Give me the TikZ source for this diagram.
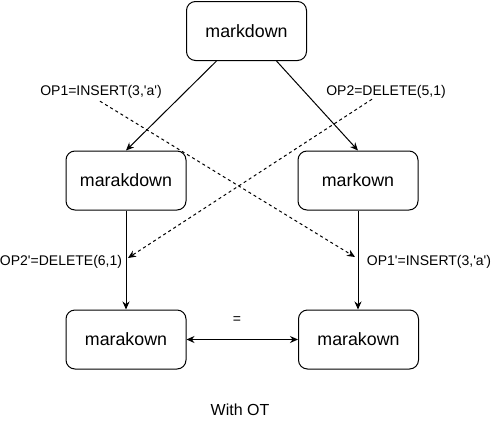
\documentclass[tikz,border=0pt]{standalone}
\usepackage{fontspec}
\setmainfont{Liberation Sans}[Ligatures=TeXOff]
\usetikzlibrary{arrows.meta}
\begin{document}
\begin{tikzpicture}[x=1pt,y=-1pt,
  box/.style={draw, rounded corners=9pt, minimum width=120pt, minimum height=59pt,
    font=\fontsize{17.8}{20}\selectfont, line width=1pt, inner sep=0pt},
  lbl/.style={font=\fontsize{14}{16}\selectfont, inner sep=0pt},
  arr/.style={line width=1pt, -{Stealth[length=8pt,width=7pt]}},
  darr/.style={arr, dash pattern=on 3pt off 3pt}]
\useasboundingbox (0,0) rectangle (493,421);
\node[box] (md) at (246.5,31) {markdown};
\node[box] (mkd) at (126,180.5) {marakdown};
\node[box] (mkn) at (358,180.5) {markown};
\node[box] (bl) at (126,339.5) {marakown};
\node[box] (br) at (358.5,339.5) {marakown};
\node[lbl] (op1) at (101,91.5) {OP1=INSERT(3,'a')};
\node[lbl] (op2) at (386,91.5) {OP2=DELETE(5,1)};
\node[lbl] (op2p) at (61,262) {OP2'=DELETE(6,1)};
\node[lbl] (op1p) at (429,262) {OP1'=INSERT(3,'a')};
\node[lbl] (eq) at (237,320) {=};
\node[font=\fontsize{16}{18}\selectfont, inner sep=0pt] (ot) at (240,410) {With OT};
\coordinate (e1) at (355,257);
\coordinate (e2) at (128,258);
\draw[arr] ([xshift=-30pt]md.south) -- (mkd.north);
\draw[arr] ([xshift=30pt]md.south) -- (mkn.north);
\draw[arr] (mkd.south) -- (bl.north);
\draw[arr] (mkn.south) -- (mkn.south |- br.north);
\draw[line width=1pt, {Stealth[length=8pt,width=7pt]}-{Stealth[length=8pt,width=7pt]}] (bl.east) -- (br.west);
\draw[darr] ([xshift=-1pt,yshift=-3pt]op1.south) -- (e1);
\draw[darr] ([xshift=-14pt,yshift=-1pt]op2.south) -- (e2);
\end{tikzpicture}
\end{document}
